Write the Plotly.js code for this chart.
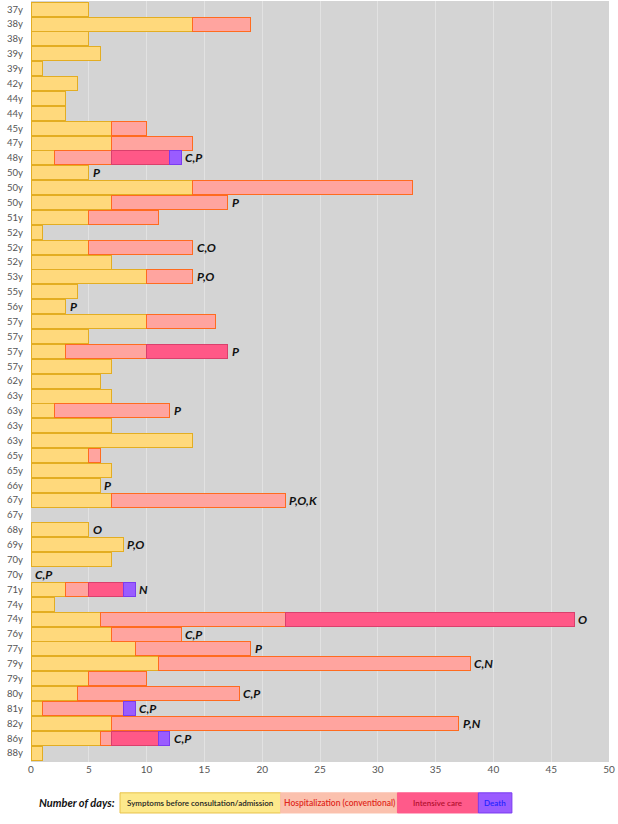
<!DOCTYPE html>
<html>
<head>
<meta charset="utf-8">
<script src="https://cdn.plot.ly/plotly-3.0.1.min.js"></script>
<style>
  html, body { margin: 0; padding: 0; background: #fff; }
  #chart { width: 618px; height: 824px; }
</style>
</head>
<body>
<div id="chart"></div>
<script>
// Patient ages, one row per patient (top to bottom)
const ages = ['37y','38y','38y','39y','39y','42y','44y','44y','45y','47y',
    '48y','50y','50y','50y','51y','52y','52y','52y','53y','55y',
    '56y','57y','57y','57y','57y','62y','63y','63y','63y','63y',
    '65y','65y','66y','67y','67y','68y','69y','70y','70y','71y',
    '74y','74y','76y','77y','79y','79y','80y','81y','82y','86y',
    '88y'];

// Number of days in each phase
const symptomDays = [5,14,5,6,1,4,3,3,7,7,
    2,5,14,7,5,1,5,7,10,4,
    3,10,5,3,7,6,7,2,7,14,
    5,7,6,7,0,5,8,7,0,3,
    2,6,7,9,11,5,4,1,7,6,
    1];
const hospDays = [0,5,0,0,0,0,0,0,3,7,
    5,0,19,10,6,0,9,0,4,0,
    0,6,0,7,0,0,0,10,0,0,
    1,0,0,15,0,0,0,0,0,2,
    0,16,6,10,27,5,14,7,30,1,
    0];
const icuDays = [0,0,0,0,0,0,0,0,0,0,
    5,0,0,0,0,0,0,0,0,0,
    0,0,0,7,0,0,0,0,0,0,
    0,0,0,0,0,0,0,0,0,3,
    0,25,0,0,0,0,0,0,0,4,
    0];
const deathDays = [0,0,0,0,0,0,0,0,0,0,
    1,0,0,0,0,0,0,0,0,0,
    0,0,0,0,0,0,0,0,0,0,
    0,0,0,0,0,0,0,0,0,1,
    0,0,0,0,0,0,0,1,0,1,
    0];

// Letter codes written after each bar
const notes = ['','','','','','','','','','',
    'C,P','P','','P','','','C,O','','P,O','',
    'P','','','P','','','','P','','',
    '','','P','P,O,K','','O','P,O','','C,P','N',
    '','O','C,P','P','C,N','','C,P','C,P','P,N','C,P',
    ''];

const xTicks = [0,5,10,15,20,25,30,35,40,45,50];

const rows = ages.map((a, i) => i);
const nz = arr => arr.map(v => v ? v : null);

function barTrace(name, vals, fill, edge) {
    return {
        type: 'bar',
        orientation: 'h',
        name: name,
        x: nz(vals),
        y: rows,
        marker: { color: fill, line: { color: edge, width: 1 } },
        hoverinfo: 'x+name'
    };
}

const traces = [
    barTrace('Symptoms before consultation/admission', symptomDays, '#ffd97c', '#e3ad22'),
    barTrace('Hospitalization (conventional)', hospDays, '#ffa49f', '#ff6b1f'),
    barTrace('Intensive care', icuDays, '#ff5887', '#d9406c'),
    barTrace('Death', deathDays, '#9a5cff', '#7a3cf0')
];

const annotations = [];
notes.forEach((n, i) => {
    if (!n) return;
    const total = symptomDays[i] + hospDays[i] + icuDays[i] + deathDays[i];
    annotations.push({
        x: total, y: i, xref: 'x', yref: 'y',
        text: n, showarrow: false,
        xanchor: 'left', yanchor: 'middle', xshift: 2,
        font: { family: 'Lato, sans-serif', size: 12, color: '#111', weight: 'bold', style: 'italic' }
    });
});

// Legend drawn under the axis (boxes in data x units, paper y)
const legendBoxes = [
    { x0: 7.7, x1: 21.6, fill: '#fde98c', edge: '#e8c24a', text: 'Symptoms before consultation/admission', color: '#222', size: 8 },
    { x0: 21.6, x1: 31.7, fill: '#fbc1ae', edge: '#fbc1ae', text: 'Hospitalization (conventional)', color: '#e0281c', size: 8.5 },
    { x0: 31.7, x1: 38.7, fill: '#ff5a8a', edge: '#ff5a8a', text: 'Intensive care', color: '#b5102e', size: 8 },
    { x0: 38.7, x1: 41.6, fill: '#9a5cff', edge: '#7a3cf0', text: 'Death', color: '#2424ff', size: 8 }
];
const ly0 = -0.067, ly1 = -0.0405;
const shapes = legendBoxes.map(b => ({
    type: 'rect', xref: 'x', yref: 'paper',
    x0: b.x0, x1: b.x1, y0: ly0, y1: ly1,
    fillcolor: b.fill, line: { color: b.edge, width: 1 }
}));
legendBoxes.forEach(b => {
    annotations.push({
        x: (b.x0 + b.x1) / 2, y: (ly0 + ly1) / 2, xref: 'x', yref: 'paper',
        text: b.text, showarrow: false, xanchor: 'center', yanchor: 'middle',
        font: { family: 'Lato, sans-serif', size: b.size, color: b.color, weight: 600 }
    });
});
annotations.push({
    x: 7.4, y: (ly0 + ly1) / 2, xref: 'x', yref: 'paper',
    text: 'Number of days:', showarrow: false, xanchor: 'right', yanchor: 'middle',
    font: { family: 'Lato, sans-serif', size: 11, color: '#111', weight: 'bold', style: 'italic' }
});

const layout = {
    width: 618,
    height: 824,
    barmode: 'stack',
    bargap: 0.06,
    showlegend: false,
    paper_bgcolor: '#ffffff',
    plot_bgcolor: '#d4d4d4',
    margin: { l: 31, r: 9, t: 1, b: 62 },
    font: { family: 'Lato, sans-serif', color: '#555' },
    xaxis: {
        range: [0, 50],
        tickvals: xTicks,
        ticktext: xTicks.map(String),
        showgrid: true,
        gridcolor: '#e2e2e2',
        gridwidth: 1,
        zeroline: false,
        showline: false,
        ticks: '',
        tickfont: { size: 10, color: '#555' },
        fixedrange: true
    },
    yaxis: {
        range: [50.6, -0.55],
        tickvals: rows,
        ticktext: ages,
        showgrid: false,
        zeroline: false,
        showline: false,
        ticks: '',
        ticklabelstandoff: 7,
        tickfont: { size: 9.5, color: '#555' },
        fixedrange: true
    },
    shapes: shapes,
    annotations: annotations
};

Plotly.newPlot('chart', traces, layout, { displayModeBar: false, staticPlot: true });
</script>
</body>
</html>
